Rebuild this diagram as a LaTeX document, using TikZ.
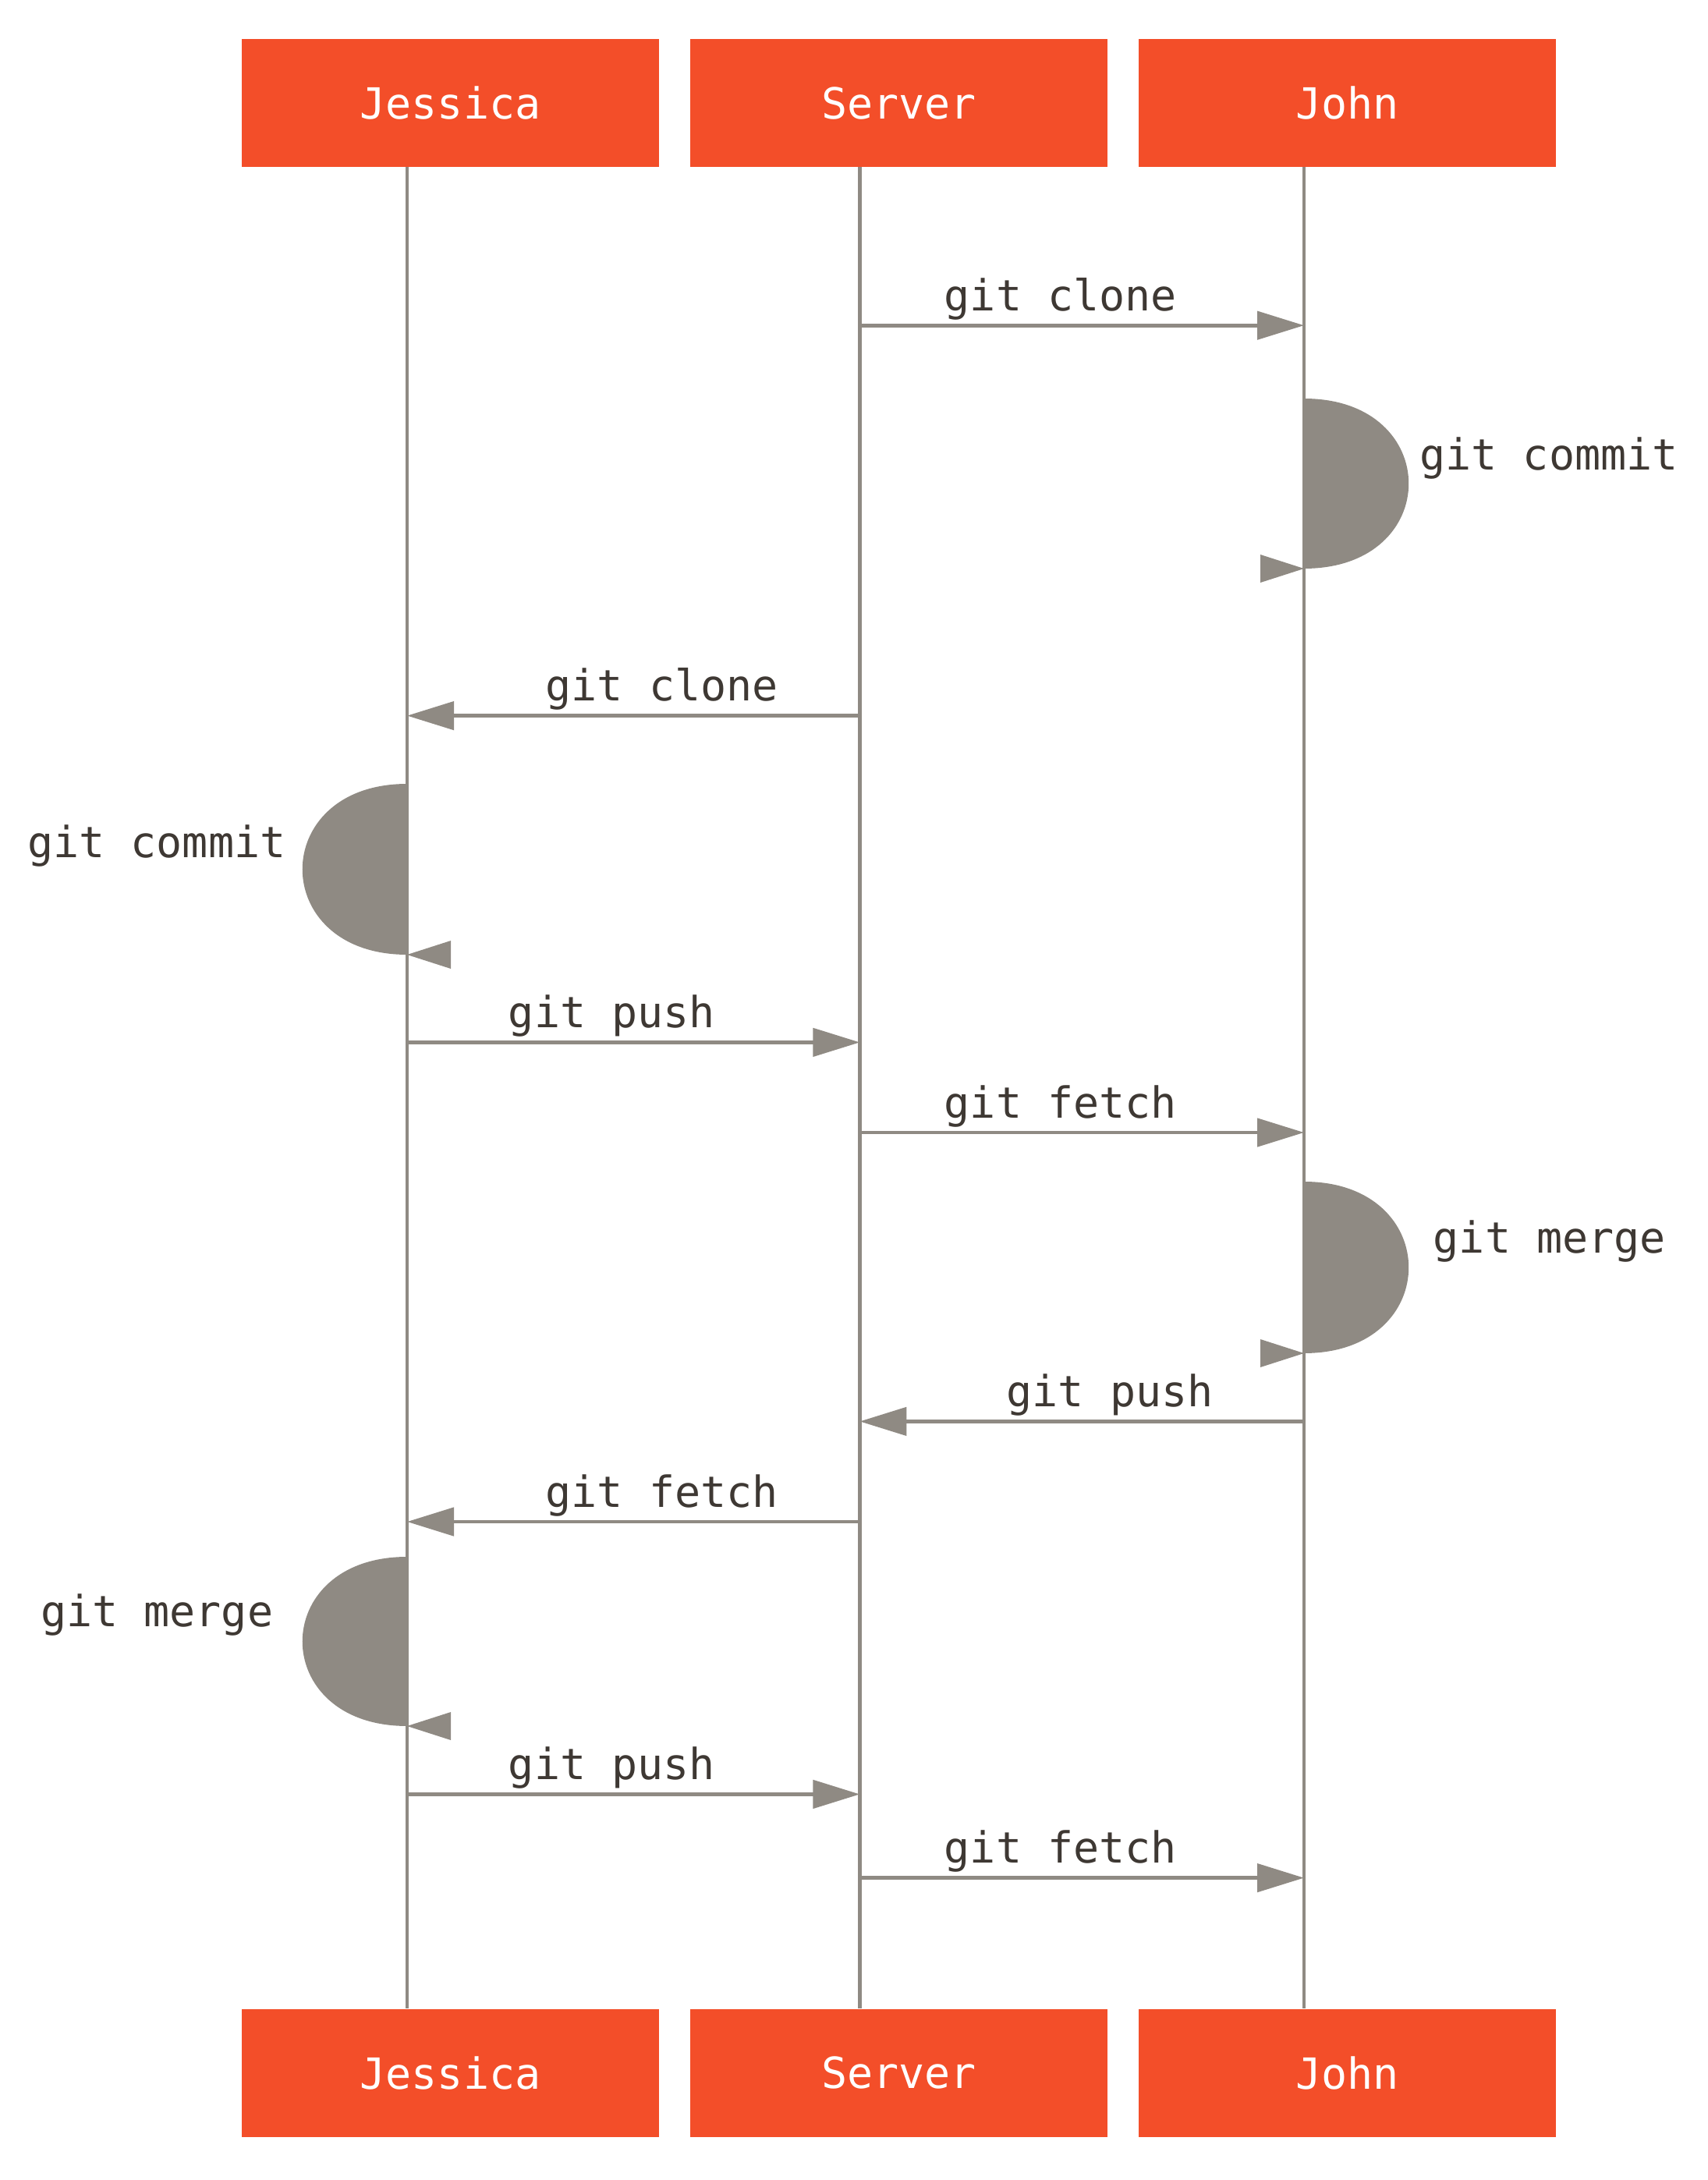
\documentclass[tikz,border=0pt]{standalone}
\usepackage{fontspec}
\newfontfamily\gitfont{DejaVu Sans Mono}
\newcommand*{\seqfont}{\gitfont\fontsize{13.75}{16}\selectfont}
\definecolor{gitred}{HTML}{F34E29}
\definecolor{gitgrey}{HTML}{8F8A83}
\definecolor{gittext}{HTML}{3E3833}
\usetikzlibrary{arrows.meta}
\usetikzlibrary{positioning}
\tikzset{
  actor/.style={fill=gitred, text=white, font=\seqfont, inner sep=0pt, outer sep=0pt,
    minimum width=133.75pt, minimum height=41pt},
  life/.style={draw=gitgrey, line width=1.2pt},
  msg/.style={draw=gitgrey, line width=1.15pt, -{Triangle[length=15pt,width=9pt]}},
  lbl/.style={text=gittext, font=\seqfont, anchor=base, inner sep=0pt, yshift=4.75pt, pos=0.452},
  backlbl/.style={lbl, pos=0.437},
  selfloop/.style={fill=gitgrey},
  looplbl/.style={text=gittext, font=\seqfont, anchor=base, inner sep=0pt}
}

\begin{document}
\begin{tikzpicture}[x=1pt, y=-1pt]
    \useasboundingbox (0,0) rectangle (547.5,698.75);
    % lifelines
    \coordinate (jeT) at (130.5,53.5);   \coordinate (jeB) at (130.5,643.75);
    \coordinate (svT) at (275.6,53.5);   \coordinate (svB) at (275.6,643.75);
    \coordinate (jnT) at (418,53.5);     \coordinate (jnB) at (418,643.75);
    \draw [life] (jeT) -- (jeB);
    \draw [life] (svT) -- (svB);
    \draw [life] (jnT) -- (jnB);

    \coordinate (sv1) at (275.6,104.3);  \coordinate (jn1) at (418,104.3);
    \draw [msg] (sv1) -- node [lbl] {git clone} (jn1);

    \coordinate (jn2a) at (418,127.75);  \coordinate (jn2b) at (418,182.25);
    \fill [selfloop] (jn2a) .. controls +(44.7,0) and +(44.7,0) .. (jn2b) -- cycle;
    \fill [selfloop] (jn2b) -- ++(-14,-4.5) -- ++(0,9) -- cycle;
    \node [looplbl] (commitJohn) at (496.5,150.5) {git commit};

    \coordinate (sv3) at (275.6,229.4);  \coordinate (je3) at (130.5,229.4);
    \draw [msg] (sv3) -- node [backlbl] {git clone} (je3);

    \coordinate (je4a) at (130.5,251.25); \coordinate (je4b) at (130.5,306);
    \fill [selfloop] (je4a) .. controls +(-44.7,0) and +(-44.7,0) .. (je4b) -- cycle;
    \fill [selfloop] (je4b) -- ++(14,-4.5) -- ++(0,9) -- cycle;
    \node [looplbl] (commitJessica) at (50.2,274.9) {git commit};

    \coordinate (je5) at (130.5,334.1);  \coordinate (sv5) at (275.6,334.1);
    \draw [msg] (je5) -- node [lbl] {git push} (sv5);

    \coordinate (sv6) at (275.6,363);    \coordinate (jn6) at (418,363);
    \draw [msg] (sv6) -- node [lbl] {git fetch} (jn6);

    \coordinate (jn7a) at (418,378.75);  \coordinate (jn7b) at (418,433.75);
    \fill [selfloop] (jn7a) .. controls +(44.7,0) and +(44.7,0) .. (jn7b) -- cycle;
    \fill [selfloop] (jn7b) -- ++(-14,-4.5) -- ++(0,9) -- cycle;
    \node [looplbl] (mergeJohn) at (496.7,401.7) {git merge};

    \coordinate (jn8) at (418,455.6);    \coordinate (sv8) at (275.6,455.6);
    \draw [msg] (jn8) -- node [backlbl] {git push} (sv8);

    \coordinate (sv9) at (275.6,487.75); \coordinate (je9) at (130.5,487.75);
    \draw [msg] (sv9) -- node [backlbl] {git fetch} (je9);

    \coordinate (je10a) at (130.5,499);  \coordinate (je10b) at (130.5,553.25);
    \fill [selfloop] (je10a) .. controls +(-44.7,0) and +(-44.7,0) .. (je10b) -- cycle;
    \fill [selfloop] (je10b) -- ++(14,-4.5) -- ++(0,9) -- cycle;
    \node [looplbl] (mergeJessica) at (50.3,521.4) {git merge};

    \coordinate (je11) at (130.5,575.1); \coordinate (sv11) at (275.6,575.1);
    \draw [msg] (je11) -- node [lbl] {git push} (sv11);

    \coordinate (sv12) at (275.6,601.9); \coordinate (jn12) at (418,601.9);
    \draw [msg] (sv12) -- node [lbl] {git fetch} (jn12);

    % actors
    \node [actor] (jessicaTop) at (144.375,33) {Jessica};
    \node [actor, right=10pt of jessicaTop] (serverTop) {Server};
    \node [actor, right=10pt of serverTop] (johnTop) {John};
    \node [actor] (jessicaBot) at (144.375,664.4) {Jessica};
    \node [actor, right=10pt of jessicaBot] (serverBot) {Server};
    \node [actor, right=10pt of serverBot] (johnBot) {John};
\end{tikzpicture}
\end{document}
